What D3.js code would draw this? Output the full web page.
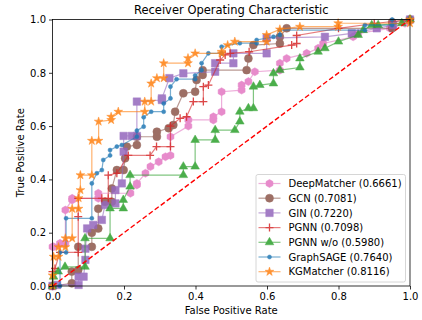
<!DOCTYPE html>
<html lang="en">
<head>
<meta charset="UTF-8">
<title>Receiver Operating Characteristic</title>
<style>
  body { margin: 0; background: #fff; }
  svg text { font-family: "DejaVu Sans", sans-serif; fill: #000; }
</style>
<script src="https://cdn.jsdelivr.net/npm/d3@7"></script>
</head>
<body>
<svg id="chart" width="422" height="320"></svg>
<script>
// ROC points [fpr, tpr]
const deepMatcher = [[0,0],[0,0.147],[0.003,0.147],[0.021,0.16],[0.036,0.16],[0.036,0.285],[0.055,0.323],[0.055,0.329],[0.128,0.329],[0.128,0.348],[0.218,0.348],[0.236,0.379],[0.236,0.385],[0.26,0.423],[0.274,0.448],[0.297,0.466],[0.316,0.485],[0.33,0.49],[0.33,0.56],[0.38,0.6],[0.38,0.623],[0.45,0.623],[0.45,0.635],[0.473,0.654],[0.473,0.729],[0.529,0.735],[0.529,0.754],[0.548,0.767],[0.566,0.804],[0.636,0.81],[0.636,0.836],[0.655,0.854],[0.711,0.873],[0.743,0.892],[0.757,0.91],[0.841,0.935],[0.855,0.948],[0.944,0.967],[0.986,0.986],[1,1]];
const gcn = [[0,0],[0.054,0.01],[0.054,0.054],[0.072,0.06],[0.072,0.147],[0.11,0.147],[0.11,0.2],[0.128,0.216],[0.128,0.29],[0.147,0.316],[0.166,0.316],[0.166,0.366],[0.18,0.435],[0.199,0.435],[0.203,0.479],[0.208,0.523],[0.236,0.529],[0.236,0.56],[0.292,0.56],[0.292,0.579],[0.325,0.592],[0.338,0.604],[0.343,0.654],[0.366,0.723],[0.399,0.729],[0.403,0.773],[0.42,0.792],[0.42,0.81],[0.543,0.81],[0.548,0.854],[0.562,0.904],[0.636,0.91],[0.636,0.935],[0.655,0.967],[0.95,0.967],[0.95,0.99],[1,1]];
const gin = [[0,0],[0.013,0.004],[0.073,0.004],[0.073,0.035],[0.087,0.035],[0.092,0.098],[0.092,0.14],[0.097,0.216],[0.114,0.229],[0.138,0.248],[0.147,0.304],[0.176,0.31],[0.176,0.36],[0.194,0.385],[0.199,0.504],[0.199,0.563],[0.222,0.563],[0.236,0.563],[0.236,0.692],[0.306,0.698],[0.306,0.704],[0.327,0.78],[0.366,0.798],[0.455,0.804],[0.455,0.836],[0.506,0.836],[0.506,0.873],[0.599,0.873],[0.599,0.93],[0.762,0.935],[0.837,0.948],[0.907,0.967],[0.953,0.979],[1,1]];
const pgnn = [[0,0],[0,0.054],[0.007,0.066],[0.021,0.126],[0.072,0.126],[0.072,0.26],[0.072,0.329],[0.138,0.329],[0.156,0.329],[0.156,0.416],[0.18,0.423],[0.212,0.49],[0.273,0.49],[0.291,0.523],[0.33,0.523],[0.33,0.6],[0.357,0.629],[0.375,0.635],[0.394,0.692],[0.422,0.692],[0.422,0.748],[0.436,0.754],[0.469,0.848],[0.483,0.867],[0.497,0.873],[0.55,0.879],[0.669,0.904],[0.683,0.91],[0.683,0.94],[0.8,0.967],[0.9,0.985],[1,1]];
const pgnnWo = [[0,0],[0.003,0.035],[0.016,0.054],[0.035,0.072],[0.091,0.072],[0.091,0.179],[0.161,0.179],[0.161,0.291],[0.198,0.291],[0.198,0.323],[0.217,0.373],[0.217,0.416],[0.366,0.416],[0.366,0.448],[0.399,0.448],[0.399,0.548],[0.455,0.548],[0.455,0.585],[0.51,0.585],[0.524,0.617],[0.524,0.654],[0.548,0.667],[0.562,0.667],[0.562,0.748],[0.58,0.754],[0.618,0.76],[0.618,0.798],[0.636,0.81],[0.692,0.82],[0.692,0.854],[0.743,0.879],[0.762,0.892],[0.8,0.917],[0.855,0.942],[0.869,0.96],[0.893,0.979],[0.911,0.979],[0.977,0.986],[1,1]];
const graphSage = [[0,0],[0.021,0],[0.021,0.126],[0.038,0.126],[0.038,0.254],[0.11,0.254],[0.11,0.385],[0.124,0.423],[0.138,0.435],[0.142,0.473],[0.161,0.49],[0.161,0.51],[0.18,0.523],[0.194,0.529],[0.236,0.56],[0.236,0.583],[0.255,0.598],[0.255,0.633],[0.276,0.654],[0.311,0.654],[0.311,0.685],[0.33,0.704],[0.33,0.748],[0.347,0.776],[0.399,0.776],[0.399,0.79],[0.417,0.81],[0.417,0.836],[0.436,0.873],[0.473,0.873],[0.473,0.898],[0.524,0.911],[0.571,0.911],[0.571,0.923],[0.618,0.935],[0.636,0.942],[0.636,0.96],[0.874,0.96],[0.874,0.979],[0.95,0.979],[0.95,1],[1,1]];
const kgMatcher = [[0,0],[0,0.04],[0.003,0.11],[0.017,0.11],[0.017,0.146],[0.036,0.146],[0.036,0.179],[0.055,0.179],[0.055,0.29],[0.073,0.29],[0.073,0.33],[0.078,0.36],[0.078,0.416],[0.11,0.416],[0.11,0.545],[0.129,0.545],[0.129,0.617],[0.164,0.623],[0.164,0.635],[0.184,0.654],[0.258,0.654],[0.258,0.692],[0.276,0.692],[0.276,0.76],[0.292,0.78],[0.311,0.78],[0.311,0.836],[0.379,0.836],[0.379,0.855],[0.399,0.873],[0.473,0.873],[0.473,0.879],[0.49,0.904],[0.51,0.917],[0.599,0.917],[0.599,0.942],[0.636,0.963],[0.692,0.973],[0.799,0.973],[0.799,0.986],[1,0.986],[1,1]];

const names = ["DeepMatcher", "GCN", "GIN", "PGNN", "PGNN w/o", "GraphSAGE", "KGMatcher"];
const aucs = ["0.6661", "0.7081", "0.7220", "0.7098", "0.5980", "0.7640", "0.8116"];
const colors = ["#e377c2", "#8c564b", "#9467bd", "#d62728", "#2ca02c", "#1f77b4", "#ff7f0e"];
const markers = ["hexagon", "circle", "square", "plus", "triangle", "dot", "star"];
const curves = [deepMatcher, gcn, gin, pgnn, pgnnWo, graphSage, kgMatcher];
const ticks = [0, 0.2, 0.4, 0.6, 0.8, 1.0];

const svg = d3.select("#chart");
const x = d3.scaleLinear().domain([0, 1]).range([52.5, 410]);
const y = d3.scaleLinear().domain([0, 1]).range([286, 19.5]);

// marker path generator
function markerPath(kind) {
    if (kind === "hexagon") {
        const r = 4;
        const pts = d3.range(6).map(i => {
            const a = Math.PI / 3 * i + Math.PI / 6;
            return [r * Math.cos(a), r * Math.sin(a)];
        });
        return "M" + pts.join("L") + "Z";
    }
    if (kind === "plus") return "M-4,0H4M0,-4V4";
    if (kind === "circle") return d3.symbol(d3.symbolCircle, 50)();
    if (kind === "square") return d3.symbol(d3.symbolSquare, 56)();
    if (kind === "triangle") return d3.symbol(d3.symbolTriangle, 32)();
    if (kind === "star") return d3.symbol(d3.symbolStar, 24)();
    return d3.symbol(d3.symbolCircle, 13)();
}

function drawMarker(g, kind, color, cx, cy) {
    const p = g.append("path")
        .attr("d", markerPath(kind))
        .attr("transform", `translate(${cx},${cy})`);
    if (kind === "plus") {
        p.attr("fill", "none").attr("stroke", color).attr("stroke-width", 1.3);
    } else {
        p.attr("fill", color).attr("stroke", color).attr("stroke-width", 0.5);
    }
    return p;
}

const line = d3.line().x(d => x(d[0])).y(d => y(d[1]));
const plot = svg.append("g");

curves.forEach((data, i) => {
    const g = plot.append("g").attr("opacity", 0.85);
    g.append("path")
        .datum(data)
        .attr("d", line)
        .attr("fill", "none")
        .attr("stroke", colors[i])
        .attr("stroke-opacity", 0.7)
        .attr("stroke-width", 1.2);
    data.forEach(d => drawMarker(g, markers[i], colors[i], x(d[0]), y(d[1])));
});

// chance line
plot.append("line")
    .attr("x1", x(0)).attr("y1", y(0))
    .attr("x2", x(1)).attr("y2", y(1))
    .attr("stroke", "#ff0000")
    .attr("stroke-width", 1.4)
    .attr("stroke-dasharray", "5,2.5");

// frame
svg.append("rect")
    .attr("x", x(0)).attr("y", y(1))
    .attr("width", x(1) - x(0)).attr("height", y(0) - y(1))
    .attr("fill", "none").attr("stroke", "#000").attr("stroke-width", 0.8);

const xAxis = svg.append("g")
    .attr("transform", `translate(0,${y(0)})`)
    .call(d3.axisBottom(x).tickValues(ticks).tickFormat(d3.format(".1f")).tickSizeOuter(0).tickSize(3.5).tickPadding(3));
const yAxis = svg.append("g")
    .attr("transform", `translate(${x(0)},0)`)
    .call(d3.axisLeft(y).tickValues(ticks).tickFormat(d3.format(".1f")).tickSizeOuter(0).tickSize(3.5).tickPadding(3));
[xAxis, yAxis].forEach(a => {
    a.select(".domain").remove();
    a.selectAll("text").style("font-size", "10px").attr("fill", "#000");
    a.selectAll("line").attr("stroke", "#000").attr("stroke-width", 0.8);
});

svg.append("text")
    .attr("x", (x(0) + x(1)) / 2).attr("y", 14)
    .attr("text-anchor", "middle")
    .style("font-size", "11.5px")
    .text("Receiver Operating Characteristic");
svg.append("text")
    .attr("x", (x(0) + x(1)) / 2).attr("y", 314)
    .attr("text-anchor", "middle")
    .style("font-size", "10px")
    .text("False Positive Rate");
svg.append("text")
    .attr("transform", `translate(24,${(y(0) + y(1)) / 2}) rotate(-90)`)
    .attr("text-anchor", "middle")
    .style("font-size", "10px")
    .text("True Positive Rate");

// legend
const legend = svg.append("g");
legend.append("rect")
    .attr("x", 256).attr("y", 174.5)
    .attr("width", 149.5).attr("height", 107.5)
    .attr("rx", 2)
    .attr("fill", "#fff").attr("fill-opacity", 0.8)
    .attr("stroke", "#ccc").attr("stroke-width", 0.8);
names.forEach((n, i) => {
    const ly = 183.5 + i * 14.7;
    const g = legend.append("g").attr("opacity", 0.85);
    g.append("line")
        .attr("x1", 258.5).attr("x2", 280.5).attr("y1", ly).attr("y2", ly)
        .attr("stroke", colors[i]).attr("stroke-opacity", 0.7).attr("stroke-width", 1.2);
    drawMarker(g, markers[i], colors[i], 269.5, ly);
    legend.append("text")
        .attr("x", 288.5).attr("y", ly + 3.6)
        .style("font-size", "10px")
        .text(`${n} (${aucs[i]})`);
});
</script>
</body>
</html>
